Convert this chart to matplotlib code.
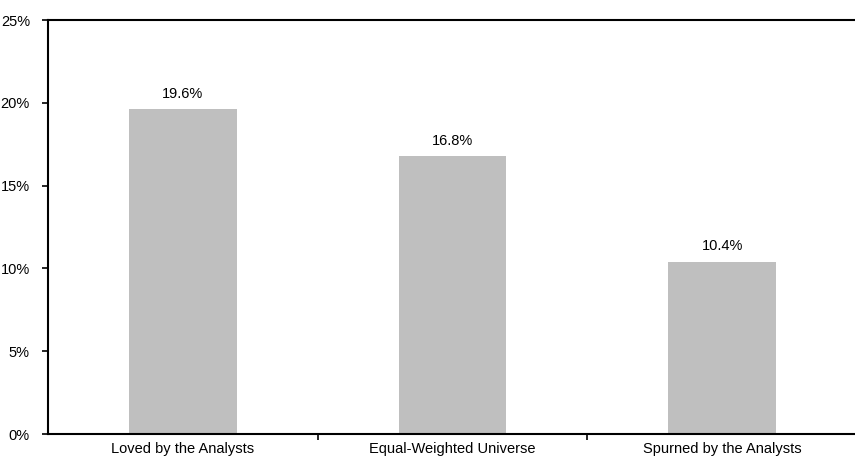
import matplotlib.pyplot as plt
from matplotlib import font_manager
import numpy as np

# condensed face if the box has one, otherwise plain Liberation Sans a bit smaller
installed = {f.name for f in font_manager.fontManager.ttflist}
if 'Liberation Sans Narrow' in installed:
    family, fs = 'Liberation Sans Narrow', 11.5
else:
    family, fs = 'Liberation Sans', 10.5
plt.rcParams['font.family'] = [family, 'DejaVu Sans']

categories = ["Loved by the Analysts", "Equal-Weighted Universe", "Spurned by the Analysts"]
values = [19.6, 16.8, 10.4]
yticks = [0, 5, 10, 15, 20, 25]

fig = plt.figure(figsize=(8.55, 4.62), dpi=100)
ax = fig.add_axes([48 / 855, 28 / 462, 809 / 855, 414 / 462])

x = np.arange(len(categories))
bars = ax.bar(x, values, width=0.4, color='#bfbfbf', zorder=2)
for b, v in zip(bars, values):
    ax.text(b.get_x() + b.get_width() / 2, v + 0.5, f"{v:.1f}%",
            ha='center', va='bottom', fontsize=fs)

ax.set_xlim(-0.5, 2.5)
ax.set_ylim(0, 25)
ax.set_yticks(yticks)
ax.set_yticklabels([f"{t}%" for t in yticks], fontsize=fs)
ax.set_xticks(x)
ax.set_xticklabels(categories, fontsize=fs)
ax.set_xticks([0.5, 1.5], minor=True)
ax.tick_params(axis='x', which='major', length=0, pad=6)
ax.tick_params(axis='x', which='minor', length=4, width=1.2, direction='out')
ax.tick_params(axis='y', length=4, width=1.2, direction='out', pad=9)

ax.spines['right'].set_visible(False)
for s in ['left', 'bottom', 'top']:
    ax.spines[s].set_linewidth(1.5)
    ax.spines[s].set_color('black')

fig.savefig('out.png', dpi=100)
